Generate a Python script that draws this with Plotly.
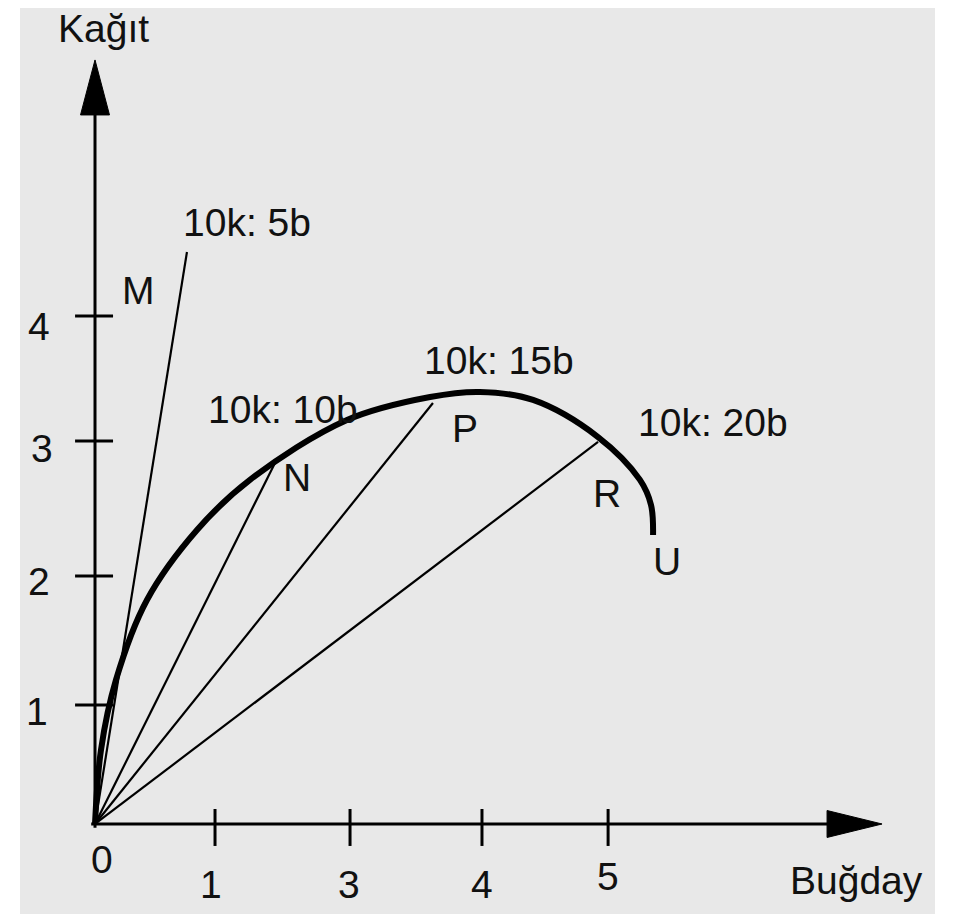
import plotly.graph_objects as go

# ---- data (axis units) ----
curve_x = [0, 0.047, 0.165, 0.409, 0.803, 1.220, 1.984, 2.638, 3.031, 3.449, 3.961,
           4.291, 4.378, 4.394]
curve_y = [0, 0.583, 1.134, 1.764, 2.315, 2.709, 3.181, 3.362, 3.402, 3.339, 3.047,
           2.709, 2.512, 2.276]

ray_end_x = [0.724, 1.417, 2.661, 3.961]
ray_end_y = [4.504, 2.843, 3.315, 3.008]
ray_labels = ["10k: 5b", "10k: 10b", "10k: 15b", "10k: 20b"]

point_labels = ["M", "N", "P", "R", "U"]

x_tick_vals = [0.945, 2.008, 3.047, 4.04]
x_tick_text = ["1", "3", "4", "5"]
y_tick_vals = [0.937, 1.953, 3.016, 4.0]
y_tick_text = ["1", "2", "3", "4"]

x_title = "Buğday"
y_title = "Kağıt"

# ---- label placement (layout, not data) ----
ray_label_pos = [(1.197, 4.740), (1.480, 3.260), (3.181, 3.646), (4.866, 3.165)]
point_label_pos = [(0.346, 4.197), (1.591, 2.732), (2.913, 3.118), (4.031, 2.606), (4.504, 2.063)]
x_tick_label_pos = [(0.913, -0.480), (2.0, -0.480), (3.047, -0.480), (4.04, -0.41)]
y_tick_label_pos = [(-0.457, 0.882), (-0.441, 1.906), (-0.417, 2.953), (-0.441, 3.921)]
zero_label_pos = (0.055, -0.283)
x_title_pos = (5.992, -0.441)
y_title_pos = (0.063, 6.26)

FONT = dict(family="Liberation Sans, Arial, sans-serif", size=39, color="#111111")
BLACK = "#000000"

fig = go.Figure()

# axis lines
y_top = 5.6
x_right = 5.77
fig.add_trace(go.Scatter(x=[0, 0], y=[-0.03, y_top], mode="lines",
                         line=dict(color=BLACK, width=3), hoverinfo="skip"))
fig.add_trace(go.Scatter(x=[-0.03, x_right], y=[0, 0], mode="lines",
                         line=dict(color=BLACK, width=3), hoverinfo="skip"))
# arrowheads
fig.add_trace(go.Scatter(x=[-0.114, 0, 0.114, -0.114], y=[5.583, 6.016, 5.583, 5.583],
                         mode="lines", fill="toself", fillcolor=BLACK,
                         line=dict(color=BLACK, width=1), hoverinfo="skip"))
fig.add_trace(go.Scatter(x=[5.764, 6.197, 5.764, 5.764], y=[0.106, 0, -0.106, 0.106],
                         mode="lines", fill="toself", fillcolor=BLACK,
                         line=dict(color=BLACK, width=1), hoverinfo="skip"))

# tick marks
tx, ty = [], []
for v in x_tick_vals:
    tx += [v, v, None]
    ty += [-0.173, 0.118, None]
for v in y_tick_vals:
    tx += [-0.157, 0.142, None]
    ty += [v, v, None]
fig.add_trace(go.Scatter(x=tx, y=ty, mode="lines", line=dict(color=BLACK, width=3),
                         hoverinfo="skip"))

# rays from origin
for ex, ey in zip(ray_end_x, ray_end_y):
    fig.add_trace(go.Scatter(x=[0, ex], y=[0, ey], mode="lines",
                             line=dict(color=BLACK, width=2.2), hoverinfo="skip"))

# production possibility curve
fig.add_trace(go.Scatter(x=curve_x, y=curve_y, mode="lines",
                         line=dict(color=BLACK, width=6, shape="spline", smoothing=1.0),
                         hoverinfo="skip"))

ann = []
def add_text(t, pos):
    ann.append(dict(x=pos[0], y=pos[1], text=t, showarrow=False, font=FONT,
                    xanchor="center", yanchor="middle"))

for t, p in zip(ray_labels, ray_label_pos):
    add_text(t, p)
for t, p in zip(point_labels, point_label_pos):
    add_text(t, p)
for t, p in zip(x_tick_text, x_tick_label_pos):
    add_text(t, p)
for t, p in zip(y_tick_text, y_tick_label_pos):
    add_text(t, p)
add_text("0", zero_label_pos)
add_text(x_title, x_title_pos)
add_text(y_title, y_title_pos)

# page body has an 8px margin, so the figure is 8px smaller and shifted accordingly
fig.update_layout(
    width=945, height=906,
    margin=dict(l=12, r=18, t=0, b=0),
    paper_bgcolor="#ffffff",
    plot_bgcolor="#e8e8e8",
    showlegend=False,
    annotations=ann,
    xaxis=dict(range=[-0.5906, 6.614], showgrid=False, zeroline=False,
               showticklabels=False, ticks="", showline=False, fixedrange=True),
    yaxis=dict(range=[-0.7087, 6.425], showgrid=False, zeroline=False,
               showticklabels=False, ticks="", showline=False, fixedrange=True),
)

fig.write_html("out.html")
